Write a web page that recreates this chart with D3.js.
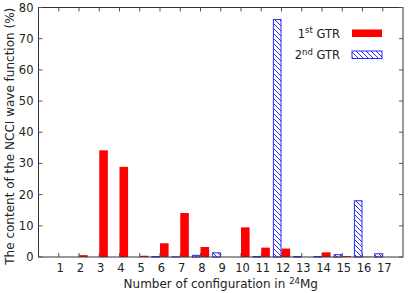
<!DOCTYPE html>
<html>
<head>
<meta charset="utf-8">
<script src="https://cdn.jsdelivr.net/npm/d3@7"></script>
<style>
  body { margin: 0; background: #fff; }
  svg text { font-family: "DejaVu Sans", Verdana, sans-serif; fill: #222; }
</style>
</head>
<body>
<svg id="chart" width="415" height="293"></svg>
<script>
// configuration numbers
const configs = [1, 2, 3, 4, 5, 6, 7, 8, 9, 10, 11, 12, 13, 14, 15, 16, 17];
// 1st GTR content (%)
const firstGTR = [0, 0.6, 34.2, 28.9, 0.4, 4.4, 14.1, 3.2, 0, 9.5, 3.0, 2.7, 0, 1.5, 0.3, 0.1, 0];
// 2nd GTR content (%)
const secondGTR = [0, 0, 0, 0, 0, 0.3, 0.2, 0.7, 1.5, 0, 0.3, 76.3, 0.3, 0.3, 0.9, 18.2, 1.2];
const yTicks = [0, 10, 20, 30, 40, 50, 60, 70, 80];

const svg = d3.select("#chart");
const margin = { left: 38.5, right: 12, top: 7.5, bottom: 36 };
const W = 415, H = 293;

const x = d3.scaleLinear().domain([0, 18]).range([margin.left, W - margin.right]);
const y = d3.scaleLinear().domain([0, 80]).range([H - margin.bottom, margin.top]);
const barW = 8.6;

// hatch pattern for 2nd GTR
const defs = svg.append("defs");
defs.append("pattern")
  .attr("id", "hatch")
  .attr("patternUnits", "userSpaceOnUse")
  .attr("width", 5)
  .attr("height", 5)
  .append("path")
  .attr("d", "M-1,-1 L6,6 M-1,4 L1,6 M4,-1 L6,1")
  .attr("stroke", "#2a2aff")
  .attr("stroke-width", 1);

// bars: 2nd GTR on the left of each tick, 1st GTR on the right
const data = configs.map((c, i) => ({ c, a: firstGTR[i], b: secondGTR[i] }));

svg.append("g").selectAll("rect")
  .data(data.filter((d) => d.b > 0))
  .join("rect")
  .attr("x", (d) => x(d.c) - barW + 0.5)
  .attr("y", (d) => y(d.b) + 0.5)
  .attr("width", barW - 1)
  .attr("height", (d) => Math.max(0, y(0) - y(d.b) - 0.5))
  .attr("fill", "url(#hatch)")
  .attr("stroke", "#2a2aff")
  .attr("stroke-width", 1);

svg.append("g").selectAll("rect")
  .data(data.filter((d) => d.a > 0))
  .join("rect")
  .attr("x", (d) => x(d.c))
  .attr("y", (d) => y(d.a))
  .attr("width", barW)
  .attr("height", (d) => y(0) - y(d.a))
  .attr("fill", "#ff0000");

// frame
const x0 = x(0), x1 = x(18), y0 = y(0), y1 = y(80);
svg.append("rect")
  .attr("x", x0).attr("y", y1)
  .attr("width", x1 - x0).attr("height", y0 - y1)
  .attr("fill", "none")
  .attr("stroke", "#333")
  .attr("stroke-width", 1);

// x ticks (inward, mirrored)
const tickLen = 4;
const xt = svg.append("g").attr("stroke", "#555");
configs.forEach((c) => {
  xt.append("line").attr("x1", x(c)).attr("x2", x(c)).attr("y1", y0).attr("y2", y0 - tickLen);
  xt.append("line").attr("x1", x(c)).attr("x2", x(c)).attr("y1", y1).attr("y2", y1 + tickLen);
});
svg.append("g").selectAll("text")
  .data(configs)
  .join("text")
  .attr("x", (d) => x(d) + 1.5)
  .attr("y", y0 + 14.5)
  .attr("text-anchor", "middle")
  .attr("font-size", 11.5)
  .text((d) => d);

// y ticks (inward, mirrored)
const yt = svg.append("g").attr("stroke", "#555");
yTicks.forEach((t) => {
  yt.append("line").attr("x1", x0).attr("x2", x0 + tickLen).attr("y1", y(t)).attr("y2", y(t));
  yt.append("line").attr("x1", x1).attr("x2", x1 - tickLen).attr("y1", y(t)).attr("y2", y(t));
});
svg.append("g").selectAll("text")
  .data(yTicks)
  .join("text")
  .attr("x", x0 - 5)
  .attr("y", (d) => y(d) + 4)
  .attr("text-anchor", "end")
  .attr("font-size", 11.5)
  .text((d) => d);

// axis titles
svg.append("text")
  .attr("transform", `translate(14,${(y0 + y1) / 2 + 4}) rotate(-90)`)
  .attr("text-anchor", "middle")
  .attr("font-size", 12)
  .text("The content of the NCCI wave function (%)");

const xl = svg.append("text")
  .attr("x", (x0 + x1) / 2)
  .attr("y", 288)
  .attr("text-anchor", "middle")
  .attr("font-size", 12);
xl.append("tspan").text("Number of configuration in ");
xl.append("tspan").attr("font-size", 8.5).attr("dy", -4.5).text("24");
xl.append("tspan").attr("dy", 4.5).text("Mg");

// legend
const legend = [
  { sup: "st", lab: "1", fill: "#ff0000", stroke: "none", y: 33 },
  { sup: "nd", lab: "2", fill: "url(#hatch)", stroke: "#2a2aff", y: 54.5 },
];
legend.forEach((l) => {
  const t = svg.append("text")
    .attr("x", 340)
    .attr("y", l.y + 4.5)
    .attr("text-anchor", "end")
    .attr("font-size", 11.5);
  t.append("tspan").text(l.lab);
  t.append("tspan").attr("font-size", 8.5).attr("dy", -4.5).text(l.sup);
  t.append("tspan").attr("dy", 4.5).text(" GTR");
  svg.append("rect")
    .attr("x", 352).attr("y", l.y - 3.5)
    .attr("width", 30).attr("height", 7.5)
    .attr("fill", l.fill)
    .attr("stroke", l.stroke)
    .attr("stroke-width", 1);
});
</script>
</body>
</html>
